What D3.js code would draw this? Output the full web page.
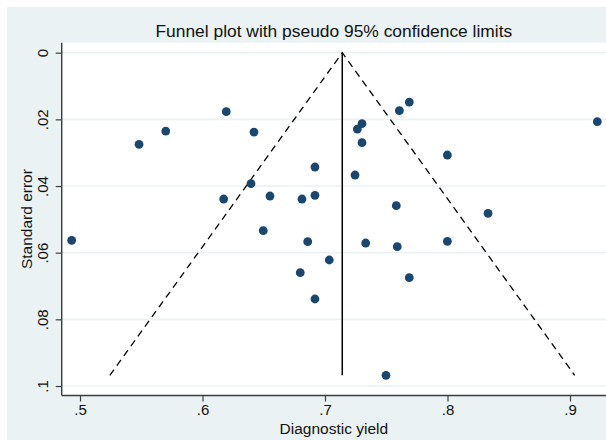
<!DOCTYPE html>
<html>
<head>
<meta charset="utf-8">
<script src="https://cdn.jsdelivr.net/npm/d3@7"></script>
<style>
  html, body { margin: 0; padding: 0; background: #ffffff; }
  svg { display: block; }
  text { font-family: Arial, "Liberation Sans", Helvetica, sans-serif; fill: #111; }
</style>
</head>
<body>
<svg id="chart" width="606" height="440"></svg>
<script>
// ---- data ----
const titleText = "Funnel plot with pseudo 95% confidence limits";
const xLabel = "Diagnostic yield";
const yLabel = "Standard error";
const yieldVals = [0.4932, 0.5482, 0.5700, 0.6194, 0.6420, 0.6918, 0.6396, 0.6173, 0.6551, 0.6812,
                   0.6918, 0.6496, 0.6859, 0.7035, 0.6798, 0.6918, 0.7264, 0.7302, 0.7302, 0.7607,
                   0.7688, 0.9223, 0.7999, 0.7245, 0.7582, 0.8331, 0.7332, 0.7590, 0.7999, 0.7688, 0.7498];
const seVals    = [0.0563, 0.0275, 0.0235, 0.0177, 0.0238, 0.0343, 0.0393, 0.0439, 0.0430, 0.0439,
                   0.0428, 0.0534, 0.0567, 0.0622, 0.0660, 0.0739, 0.0229, 0.0213, 0.0270, 0.0174,
                   0.0148, 0.0207, 0.0307, 0.0367, 0.0459, 0.0482, 0.0571, 0.0582, 0.0566, 0.0675, 0.0968];
const xTicks = [0.5, 0.6, 0.7, 0.8, 0.9];
const yTicks = [0, 0.02, 0.04, 0.06, 0.08, 0.1];
const pooledEstimate = 0.7141;
const zCrit = 1.96;

// ---- layout ----
const W = 606, H = 440;
const plotL = 61.7, plotT = 42.7, plotR = 610, plotB = 395.5;
const bg = "#eaf2f3";
const dotColor = "#1a476f";

const svg = d3.select("#chart");
const x = d3.scaleLinear().domain([0.5, 0.9]).range([80, 570]);
const y = d3.scaleLinear().domain([0, 0.1]).range([52.7, 386]);
const fmt = d => d === 0 ? "0" : String(+d.toFixed(2)).replace(/^0/, "");

// outer background
svg.append("rect").attr("x", 7).attr("y", 7).attr("width", W - 7).attr("height", H - 7).attr("fill", bg);
// plot region
svg.append("rect").attr("x", plotL).attr("y", plotT).attr("width", plotR - plotL).attr("height", plotB - plotT).attr("fill", "#ffffff");

// gridlines
svg.append("g").selectAll("line").data(yTicks).join("line")
  .attr("x1", plotL).attr("x2", plotR)
  .attr("y1", d => y(d)).attr("y2", d => y(d))
  .attr("stroke", bg).attr("stroke-width", 1.6);

// funnel lines
const maxSE = d3.max(seVals);
const funnel = [[pooledEstimate - zCrit * maxSE, maxSE], [pooledEstimate, 0], [pooledEstimate + zCrit * maxSE, maxSE]];
svg.append("path")
  .attr("d", d3.line().x(d => x(d[0])).y(d => y(d[1]))(funnel))
  .attr("fill", "none").attr("stroke", "#000").attr("stroke-width", 1.3)
  .attr("stroke-dasharray", "7,5");
svg.append("line")
  .attr("x1", x(pooledEstimate)).attr("x2", x(pooledEstimate))
  .attr("y1", y(0)).attr("y2", y(maxSE))
  .attr("stroke", "#000").attr("stroke-width", 1.5);

// points
svg.append("g").selectAll("circle").data(yieldVals.map((v, i) => [v, seVals[i]])).join("circle")
  .attr("cx", d => x(d[0])).attr("cy", d => y(d[1])).attr("r", 4.4)
  .attr("fill", dotColor);

// axes
const axisColor = "#3c3c3c";
const gx = svg.append("g").attr("transform", `translate(0,${plotB})`)
  .call(d3.axisBottom(x).tickValues(xTicks).tickFormat(fmt).tickSize(6).tickPadding(3));
gx.select(".domain").remove();
svg.append("line").attr("x1", plotL).attr("x2", plotR).attr("y1", plotB).attr("y2", plotB)
  .attr("stroke", axisColor).attr("stroke-width", 1.4);
gx.selectAll(".tick line").attr("stroke", axisColor).attr("stroke-width", 1.2);
gx.selectAll(".tick text").attr("font-size", 15).attr("fill", "#111")
  .attr("font-family", "Arial, 'Liberation Sans', sans-serif");

const gy = svg.append("g").attr("transform", `translate(${plotL},0)`)
  .call(d3.axisLeft(y).tickValues(yTicks).tickFormat(fmt).tickSize(6));
gy.select(".domain").remove();
svg.append("line").attr("x1", plotL).attr("x2", plotL).attr("y1", plotT).attr("y2", plotB)
  .attr("stroke", axisColor).attr("stroke-width", 1.4);
gy.selectAll(".tick line").attr("stroke", axisColor).attr("stroke-width", 1.2);
gy.selectAll(".tick text")
  .attr("font-size", 15).attr("fill", "#111")
  .attr("font-family", "Arial, 'Liberation Sans', sans-serif")
  .attr("x", null).attr("dy", null)
  .attr("text-anchor", "middle")
  .attr("transform", `translate(${47.5 - plotL},0) rotate(-90)`)
  .attr("y", 0);

// titles
const cx = (plotL + 606) / 2;
svg.append("text").attr("x", cx).attr("y", 37).attr("text-anchor", "middle")
  .attr("font-size", 17.4).text(titleText);
svg.append("text").attr("x", cx).attr("y", 434).attr("text-anchor", "middle")
  .attr("font-size", 15.5).text(xLabel);
svg.append("text").attr("transform", `translate(32,${(plotT + plotB) / 2}) rotate(-90)`)
  .attr("text-anchor", "middle").attr("font-size", 15.5).text(yLabel);
</script>
</body>
</html>
